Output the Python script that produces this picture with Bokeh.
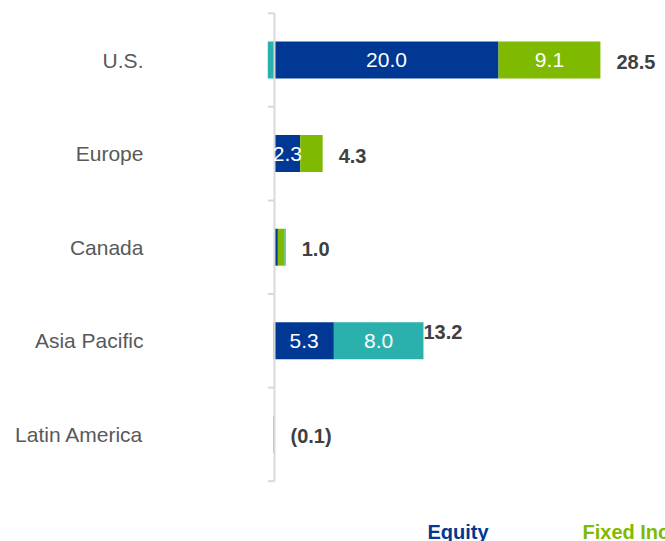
import numpy as np
from bokeh.plotting import figure
from bokeh.models import ColumnDataSource, Range1d
from bokeh.core.properties import value
from bokeh.embed import file_html
from bokeh.resources import INLINE

# ---------------- data ----------------
categories = ["U.S.", "Europe", "Canada", "Asia Pacific", "Latin America"]
equity = [20.0, 2.3, 0.3, 5.3, 0.0]
fixed_income = [9.1, 2.0, 0.6, -0.1, 0.0]
multi_asset = [-0.6, 0.0, 0.1, 8.0, -0.1]
series_names = ["Equity", "Fixed Income", "Multi-Asset"]
series_values = [equity, fixed_income, multi_asset]
series_colors = ["#003893", "#7fba00", "#2ab0ad"]

# ---------------- layout / style ----------------
FONT = "Liberation Sans"
W, H = 665, 541
PX_X = 11.2          # pixels per unit on x
ZERO_PX = 274        # canvas x of zero
ROW_PX = 93.6        # pixels per category row
FIRST_ROW_PX = 59.5  # canvas y of first row centre
x_start = -ZERO_PX / PX_X
x_end = x_start + W / PX_X
y_end = FIRST_ROW_PX / ROW_PX
y_start = y_end - H / ROW_PX

n = len(categories)
ys = -np.arange(n, dtype=float)

p = figure(width=W, height=H, x_range=Range1d(x_start, x_end),
           y_range=Range1d(y_start, y_end), output_backend="svg",
           toolbar_location=None, min_border=0,
           x_axis_location=None, y_axis_location=None)
p.grid.visible = False
p.outline_line_color = None
p.background_fill_color = "white"
p.border_fill_color = "white"

AX_COLOR = "#d9d9d9"

# stacked bars
pos = np.zeros(n)
neg = np.zeros(n)
seg_lx, seg_ly, seg_lt = [], [], []
for vals, color in zip(series_values, series_colors):
    v = np.array(vals, dtype=float)
    left = np.where(v >= 0, pos, neg + v)
    right = np.where(v >= 0, pos + v, neg)
    pos = np.where(v >= 0, pos + v, pos)
    neg = np.where(v < 0, neg + v, neg)
    p.hbar(y=ys, left=left, right=right, height=0.395,
           fill_color=color, line_color=None)
    for i in range(n):
        if abs(v[i]) >= 2.2:
            seg_lx.append((left[i] + right[i]) / 2)
            seg_ly.append(ys[i])
            seg_lt.append(f"{v[i]:.1f}")

# vertical axis line and ticks between categories (drawn over the bars)
p.segment(x0=[0], y0=[0.5], x1=[0], y1=[0.5 - n], line_color=AX_COLOR, line_width=2)
tick_y = 0.5 - np.arange(n + 1)
p.segment(x0=np.full(n + 1, -0.6), y0=tick_y, x1=np.zeros(n + 1), y1=tick_y,
          line_color=AX_COLOR, line_width=2)

p.text(x=seg_lx, y=seg_ly, text=seg_lt, text_color="white",
       text_font=value(FONT), text_font_size="21px",
       text_align="center", text_baseline="middle")

# category labels
p.text(x=np.full(n, -11.7), y=ys, text=categories, text_color="#595959",
       text_font=value(FONT), text_font_size="21px",
       text_align="right", text_baseline="middle")

# totals
totals = np.sum(np.array(series_values), axis=0)
tot_text = [f"{t:.1f}" if t >= 0 else f"({abs(t):.1f})" for t in np.round(totals, 1)]
nudge = {"Asia Pacific": (0, -9)}
xo = [nudge.get(c, (16, 2))[0] for c in categories]
yo = [nudge.get(c, (16, 2))[1] for c in categories]
tot_src = ColumnDataSource(dict(x=pos, y=ys, t=tot_text, xo=xo, yo=yo))
p.text(x="x", y="y", text="t", x_offset="xo", y_offset="yo", source=tot_src,
       text_color="#404040", text_font=value(FONT), text_font_size="20px",
       text_font_style="bold", text_align="left", text_baseline="middle")

# legend as coloured text
leg_x = 13.66 + 13.84 * np.arange(len(series_names))
p.text(x=leg_x, y=np.full(len(series_names), ys[-1] - 1.04), text=series_names,
       text_color=series_colors, text_font=value(FONT), text_font_size="20px",
       text_font_style="bold", text_align="left", text_baseline="middle")

open("out.html", "w").write(file_html(p, INLINE))
